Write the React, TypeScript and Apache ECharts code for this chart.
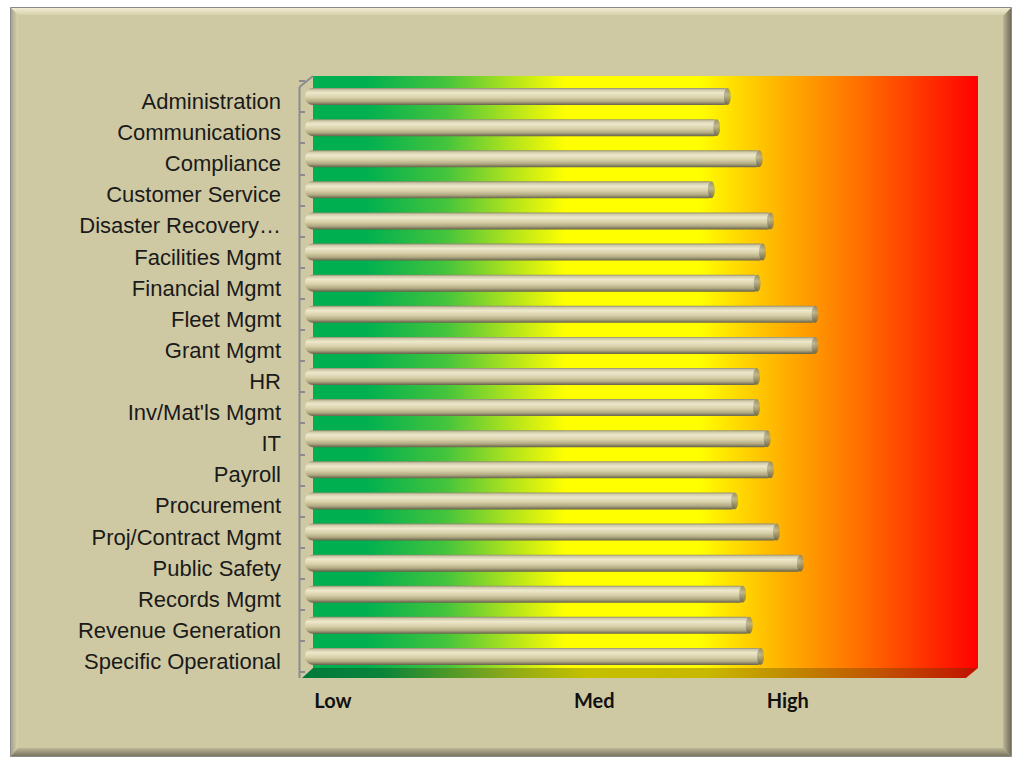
import React, { useEffect, useRef } from "react";
import * as echarts from "echarts";

const categories = [
  "Administration",
  "Communications",
  "Compliance",
  "Customer Service",
  "Disaster Recovery…",
  "Facilities Mgmt",
  "Financial Mgmt",
  "Fleet Mgmt",
  "Grant Mgmt",
  "HR",
  "Inv/Mat'ls Mgmt",
  "IT",
  "Payroll",
  "Procurement",
  "Proj/Contract Mgmt",
  "Public Safety",
  "Records Mgmt",
  "Revenue Generation",
  "Specific Operational",
];

const riskScores = [
  6.35, 6.19, 6.83, 6.11, 7.0, 6.88, 6.8, 7.67, 7.67, 6.79, 6.79, 6.95, 7.0,
  6.46, 7.09, 7.45, 6.58, 6.68, 6.85,
];

const levelLabels = ["Low", "Med", "High"];
const levelPositions = [0.42, 4.35, 7.26];

export default function App() {
  const ref = useRef<HTMLDivElement>(null);

  useEffect(() => {
    if (!ref.current) return;
    const chart = echarts.init(ref.current, null, { renderer: "svg" });

    const cylinder = new echarts.graphic.LinearGradient(0, 0, 0, 1, [
      { offset: 0, color: "#8e8a6e" },
      { offset: 0.1, color: "#cfc9a8" },
      { offset: 0.28, color: "#eee8cc" },
      { offset: 0.55, color: "#d9d1aa" },
      { offset: 0.8, color: "#b0a982" },
      { offset: 1, color: "#65614a" },
    ]);
    const capColor = new echarts.graphic.LinearGradient(0, 0, 0, 1, [
      { offset: 0, color: "#85816a" },
      { offset: 0.4, color: "#b5ae8a" },
      { offset: 1, color: "#5e5a44" },
    ]);

    const wallGrad = new echarts.graphic.LinearGradient(0, 0, 1, 0, [
      { offset: 0, color: "#00b050" },
      { offset: 0.08, color: "#00b050" },
      { offset: 0.2, color: "#45c43c" },
      { offset: 0.3, color: "#b4e41c" },
      { offset: 0.38, color: "#ffff00" },
      { offset: 0.58, color: "#ffff00" },
      { offset: 0.68, color: "#ffc000" },
      { offset: 0.82, color: "#ff7000" },
      { offset: 1, color: "#ff0000" },
    ]);
    const floorGrad = new echarts.graphic.LinearGradient(0, 0, 1, 0, [
      { offset: 0, color: "#007a3a" },
      { offset: 0.12, color: "#0a843a" },
      { offset: 0.3, color: "#8aa81a" },
      { offset: 0.42, color: "#c4c000" },
      { offset: 0.6, color: "#c8b800" },
      { offset: 0.72, color: "#c08a00" },
      { offset: 0.86, color: "#c05000" },
      { offset: 1, color: "#c01000" },
    ]);

    const graphic: any[] = [
      {
        type: "rect",
        z: 0,
        shape: { x: 10.5, y: 7.5, width: 1001, height: 749 },
        style: { fill: "#cfc9a3", stroke: "#8a8a8a", lineWidth: 1 },
        silent: true,
      },
      {
        type: "polygon",
        z: 0,
        shape: { points: [[11, 8], [1011, 8], [1004, 15], [18, 15]] },
        style: {
          fill: new echarts.graphic.LinearGradient(0, 0, 0, 1, [
            { offset: 0, color: "#f2edd2" },
            { offset: 1, color: "#d6d0ab" },
          ]),
        },
        silent: true,
      },
      {
        type: "polygon",
        z: 0,
        shape: { points: [[11, 8], [18, 15], [18, 749], [11, 756]] },
        style: {
          fill: new echarts.graphic.LinearGradient(0, 0, 1, 0, [
            { offset: 0, color: "#a8a48a" },
            { offset: 1, color: "#d8d2ae" },
          ]),
        },
        silent: true,
      },
      {
        type: "polygon",
        z: 0,
        shape: { points: [[1011, 8], [1011, 756], [1003, 748], [1003, 16]] },
        style: {
          fill: new echarts.graphic.LinearGradient(0, 0, 1, 0, [
            { offset: 0, color: "#bdb796" },
            { offset: 1, color: "#6f6c5c" },
          ]),
        },
        silent: true,
      },
      {
        type: "polygon",
        z: 0,
        shape: { points: [[11, 756], [1011, 756], [1003, 748], [18, 748]] },
        style: {
          fill: new echarts.graphic.LinearGradient(0, 0, 0, 1, [
            { offset: 0, color: "#bdb796" },
            { offset: 1, color: "#78755f" },
          ]),
        },
        silent: true,
      },
      {
        type: "rect",
        z: 0,
        shape: { x: 313, y: 76, width: 665, height: 592 },
        style: { fill: wallGrad },
        silent: true,
      },
      {
        type: "polygon",
        z: 0,
        shape: { points: [[313, 668], [978, 668], [966, 678], [302, 678]] },
        style: { fill: floorGrad },
        silent: true,
      },
      {
        type: "line",
        z: 1,
        shape: { x1: 299.5, y1: 87, x2: 313, y2: 76 },
        style: { stroke: "#8c8c90", lineWidth: 2 },
        silent: true,
      },
      {
        type: "line",
        z: 1,
        shape: { x1: 299.5, y1: 87, x2: 299.5, y2: 678 },
        style: { stroke: "#8c8c90", lineWidth: 2 },
        silent: true,
      },
    ];

    chart.setOption({
      animation: false,
      backgroundColor: "#ffffff",
      graphic,
      grid: [
        { left: 305, right: 43, top: 81, bottom: 86, containLabel: false },
        { left: 305, right: 43, top: 86, bottom: 81, containLabel: false },
      ],
      xAxis: [
        {
          type: "value",
          gridIndex: 0,
          min: 0,
          max: 10,
          axisLine: { show: false },
          axisTick: { show: false },
          splitLine: { show: false },
          axisLabel: {
            customValues: levelPositions,
            formatter: (v: number) => {
              const i = levelPositions.findIndex((p) => Math.abs(p - v) < 1e-6);
              return i >= 0 ? levelLabels[i] : "";
            },
            margin: 18,
            color: "#111111",
            fontFamily: "Lato",
            fontWeight: "bold",
            fontSize: 20,
          },
        },
        {
          type: "value",
          gridIndex: 1,
          min: 0,
          max: 10,
          show: false,
        },
      ],
      yAxis: [
        {
          type: "category",
          gridIndex: 0,
          data: categories,
          inverse: true,
          offset: 6,
          axisLine: { show: false },
          axisTick: {
            show: true,
            length: 6,
            lineStyle: { color: "#8c8c90", width: 2 },
          },
          axisLabel: { show: false },
        },
        {
          type: "category",
          gridIndex: 1,
          data: categories,
          inverse: true,
          offset: 6,
          axisLine: { show: false },
          axisTick: { show: false },
          axisLabel: {
            color: "#1a1a1a",
            fontFamily: "Liberation Sans",
            fontSize: 22,
            margin: 18,
          },
        },
      ],
      series: [
        {
          type: "bar",
          data: riskScores,
          barWidth: 17,
          itemStyle: {
            color: cylinder,
            borderRadius: [8, 3, 3, 8],
          },
          z: 3,
        },
        {
          type: "scatter",
          data: riskScores.map((v, i) => [v, i]),
          symbol: "circle",
          symbolSize: [7, 17],
          itemStyle: { color: capColor },
          z: 4,
          silent: true,
        },
      ],
    });

    return () => chart.dispose();
  }, []);

  return (
    <div
      ref={ref}
      style={{ position: "absolute", left: 0, top: 0, width: 1013, height: 758 }}
    />
  );
}
